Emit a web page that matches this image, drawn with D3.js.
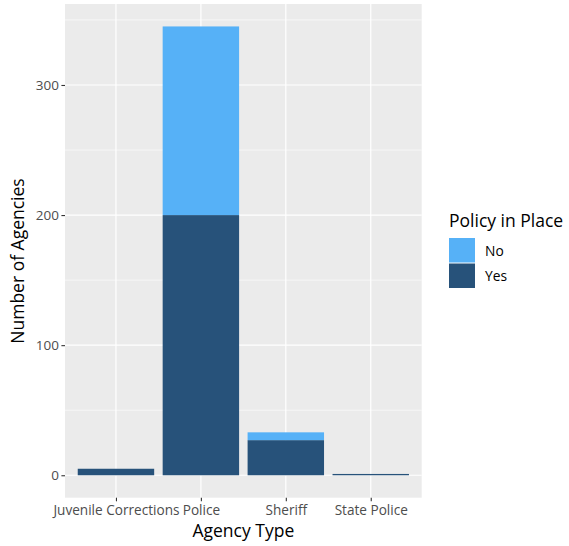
<!DOCTYPE html>
<html><head><meta charset="utf-8">
<script src="https://cdn.jsdelivr.net/npm/d3@7"></script>
<style>body{margin:0;background:#fff;} text{font-family:"Open Sans",sans-serif;}</style>
</head><body>
<svg id="c" width="569" height="546"></svg>
<script>
const categories = ["Juvenile Corrections", "Police", "Sheriff", "State Police"];
const yesValues = [5, 200, 27, 1];
const noValues = [0, 145, 6, 0];
const seriesNames = ["No", "Yes"];
const seriesColors = ["#56B1F7", "#27527A"];
const yTicks = [0, 100, 200, 300];
const yMinor = [50, 150, 250, 350];

const svg = d3.select("#c");
const L = 65, R = 421.7, T = 4, B = 497.7;

const totals = categories.map((c, i) => yesValues[i] + noValues[i]);
const ymax = d3.max(totals);
const y = d3.scaleLinear().domain([-0.05 * ymax, ymax * 1.05]).range([B, T]);
const xc = d3.scaleLinear().domain([0.4, categories.length + 0.6]).range([L, R]);
const bw = 0.9;

svg.append("rect").attr("x", L).attr("y", T).attr("width", R - L).attr("height", B - T).attr("fill", "#EBEBEB");
// minor grid
svg.selectAll(".ymin").data(yMinor.filter(v => y(v) >= T)).enter().append("line")
  .attr("x1", L).attr("x2", R).attr("y1", d => y(d)).attr("y2", d => y(d))
  .attr("stroke", "#fff").attr("stroke-width", 0.6);
svg.selectAll(".ymaj").data(yTicks).enter().append("line")
  .attr("x1", L).attr("x2", R).attr("y1", d => y(d)).attr("y2", d => y(d))
  .attr("stroke", "#fff").attr("stroke-width", 1.2);
svg.selectAll(".xmaj").data(categories).enter().append("line")
  .attr("x1", (d, i) => xc(i + 1)).attr("x2", (d, i) => xc(i + 1)).attr("y1", T).attr("y2", B)
  .attr("stroke", "#fff").attr("stroke-width", 1.2);

// bars
const stackData = categories.map((c, i) => ({cat: c, i: i, Yes: yesValues[i], No: noValues[i]}));
const stack = d3.stack().keys(["Yes", "No"])(stackData);
const colorOf = {No: seriesColors[0], Yes: seriesColors[1]};
stack.forEach(layer => {
  svg.append("g").selectAll("rect").data(layer.filter(d => d[1] - d[0] > 0)).enter().append("rect")
    .attr("x", d => xc(d.data.i + 1 - bw / 2))
    .attr("width", d => xc(d.data.i + 1 + bw / 2) - xc(d.data.i + 1 - bw / 2))
    .attr("y", d => y(d[1]))
    .attr("height", d => y(d[0]) - y(d[1]))
    .attr("fill", colorOf[layer.key]);
});

// axes
const yAxis = d3.axisLeft(y).tickValues(yTicks).tickSize(3.6).tickPadding(2.5);
const gy = svg.append("g").attr("transform", `translate(${L},0)`).call(yAxis);
gy.select(".domain").remove();
gy.selectAll("line").attr("stroke", "#333").attr("stroke-width", 1.1);
gy.selectAll("text").attr("fill", "#4D4D4D").style("font-size", "13.5px");

const xband = d3.scalePoint().domain(categories).range([xc(1), xc(categories.length)]);
const xAxis = d3.axisBottom(xband).tickSize(3.6).tickPadding(4);
const gx = svg.append("g").attr("transform", `translate(0,${B})`).call(xAxis);
gx.select(".domain").remove();
gx.selectAll("line").attr("stroke", "#333").attr("stroke-width", 1.1);
gx.selectAll("text").attr("fill", "#4D4D4D").style("font-size", "13.6px");

svg.append("text").attr("x", (L + R) / 2).attr("y", 536.5).attr("text-anchor", "middle")
  .style("font-size", "17.5px").attr("fill", "#000").text("Agency Type");
svg.append("text").attr("transform", `translate(24,261) rotate(-90)`).attr("text-anchor", "middle")
  .style("font-size", "17.5px").attr("fill", "#000").text("Number of Agencies");

// legend
const lg = svg.append("g");
lg.append("text").attr("x", 449).attr("y", 227).style("font-size", "17.5px").attr("fill", "#000").text("Policy in Place");
seriesNames.forEach((s, i) => {
  lg.append("rect").attr("x", 449).attr("y", 238 + i * 25.5).attr("width", 26).attr("height", 24.5).attr("fill", seriesColors[i]);
  lg.append("text").attr("x", 485).attr("y", 251 + i * 25.5).attr("dy", "0.35em").style("font-size", "13.8px").attr("fill", "#000").text(s);
});
</script>
</body></html>
